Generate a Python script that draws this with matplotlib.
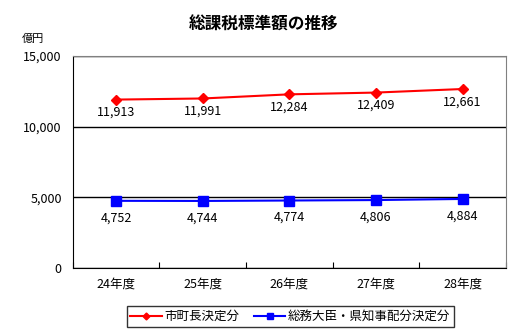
import matplotlib
matplotlib.use("Agg")
import matplotlib.pyplot as plt
from matplotlib.ticker import FixedLocator, FuncFormatter

plt.rcParams["font.family"] = ["Noto Sans CJK JP", "DejaVu Sans"]

# data
# ----------
years = ["24年度", "25年度", "26年度", "27年度", "28年度"]
city_vals = [11913, 11991, 12284, 12409, 12661]
minister_vals = [4752, 4744, 4774, 4806, 4884]

# figure
# ----------
fig = plt.figure(figsize=(5.28, 3.35), dpi=100)
ax = fig.add_axes([0.138, 0.2, 0.82, 0.633])

x = [i + 0.5 for i in range(len(years))]

ax.plot(x, city_vals, color="#ff0000", lw=1.5, marker="D", ms=5,
        label="市町長決定分", zorder=3)
ax.plot(x, minister_vals, color="#0000ff", lw=1.5, marker="s", ms=6.5,
        label="総務大臣・県知事配分決定分", zorder=3)

# value labels under each point
for xi, v in zip(x, city_vals):
    ax.annotate(f"{v:,}", (xi, v), xytext=(0, -4.5), textcoords="offset points",
                ha="center", va="top", fontsize=9)
for xi, v in zip(x, minister_vals):
    ax.annotate(f"{v:,}", (xi, v), xytext=(0, -7.5), textcoords="offset points",
                ha="center", va="top", fontsize=9)

ax.set_xlim(0, 5)
ax.set_ylim(0, 15000)
ax.yaxis.set_major_locator(FixedLocator([0, 5000, 10000, 15000]))
ax.yaxis.set_major_formatter(FuncFormatter(lambda v, p: f"{int(v):,}"))
ax.xaxis.set_major_locator(FixedLocator(range(6)))
ax.xaxis.set_major_formatter(FuncFormatter(lambda v, p: ""))
ax.xaxis.set_minor_locator(FixedLocator(x))
ax.set_xticklabels(years, minor=True)
ax.tick_params(axis="x", which="major", direction="in", length=4, color="black")
ax.tick_params(axis="x", which="minor", length=0, labelsize=9, pad=7)
ax.tick_params(axis="y", length=0, labelsize=9, pad=8)

ax.grid(axis="y", color="black", lw=1)
ax.set_axisbelow(True)
ax.spines["left"].set_color("black")
ax.spines["bottom"].set_color("black")
ax.spines["top"].set_color("#808080")
ax.spines["right"].set_color("#808080")

fig.text(0.5, 0.925, "総課税標準額の推移", ha="center", va="center",
         fontsize=12, fontweight="bold")
fig.text(0.042, 0.885, "億円", ha="left", va="center", fontsize=8)

leg = fig.legend(loc="center", bbox_to_anchor=(0.55, 0.055), ncol=2,
                 frameon=True, fancybox=False, edgecolor="black",
                 fontsize=9, handlelength=2.5, columnspacing=1.2,
                 borderpad=0.3, handletextpad=0.2, markerscale=0.7)
leg.get_frame().set_linewidth(1)

fig.savefig("out.png", dpi=100)
